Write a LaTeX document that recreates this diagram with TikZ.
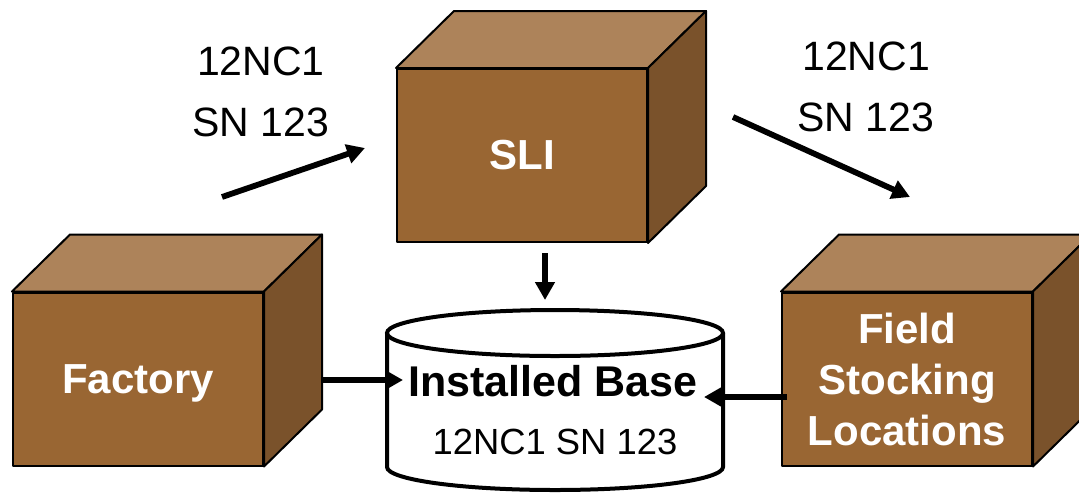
\documentclass[tikz,border=0pt]{standalone}
\usepackage{fontspec}
\setmainfont{Liberation Sans}
\usetikzlibrary{arrows.meta,calc}
\definecolor{cfront}{RGB}{153,102,51}
\definecolor{ctop}{RGB}{173,131,90}
\definecolor{cside}{RGB}{122,82,43}
\newcommand\cubefaces[1]{%
  \filldraw[face,fill=ctop] (#1.north west) -- ($(#1.north west)+(58,-57)$) -- ($(#1.north east)+(58,-57)$) -- (#1.north east) -- cycle;
  \filldraw[face,fill=cside] (#1.north east) -- ($(#1.north east)+(58,-57)$) -- ($(#1.south east)+(58,-57)$) -- (#1.south east) -- cycle;}
\begin{document}
\begin{tikzpicture}[x=0.5pt,y=-0.5pt,
  face/.style={draw=black, line width=1pt, line join=round},
  front/.style={face, fill=cfront, minimum width=125pt, minimum height=86.5pt, inner sep=0pt,
    text=white, font=\bfseries\fontsize{21}{25.5}\selectfont, align=center},
  arr/.style={line width=2.9pt, -{Triangle[length=9pt,width=9.5pt]}},
  lbl/.style={font=\fontsize{20.5}{30.5}\selectfont, align=center, inner sep=0pt},
  cyl/.style={line width=2pt}
]
\clip (0,0) rectangle (1079,493);
\fill[white] (0,0) rectangle (1079,493);

% cubes
\node[front, text depth=0pt] (fac) at (138,379) {Factory};
\cubefaces{fac}
\node[front] (sli) at (522,155.5) {SLI};
\cubefaces{sli}
\node[front] (fld) at (907,379) {Field\\Stocking\\Locations};
\cubefaces{fld}

% cylinder
\coordinate (cyltop) at (555,310);
\fill[white] (387,333) -- (387,467) arc[start angle=180, end angle=360, x radius=84pt, y radius=11.5pt] -- (723,333) arc[start angle=0, end angle=180, x radius=84pt, y radius=11.5pt] -- cycle;
\draw[cyl] (387,333) -- (387,467) arc[start angle=180, end angle=360, x radius=84pt, y radius=11.5pt] -- (723,333);
\draw[cyl] (555,333) ellipse[x radius=84pt, y radius=11.5pt];
\node[font=\bfseries\fontsize{21.5}{26}\selectfont, inner sep=2pt] (ib) at (553,381) {Installed Base};
\node[font=\fontsize{18.2}{22}\selectfont, inner sep=2pt] (ibsn) at (555,442) {12NC1 SN 123};

% labels
\node[lbl] (lab1) at (261,92) {12NC1\\SN 123};
\node[lbl] (lab2) at (866,87) {12NC1\\SN 123};

% arrows
\coordinate (l1) at (222,197);
\coordinate (l2) at (365,148);
\coordinate (r1) at (733,117);
\coordinate (r2) at (910,197);
\draw[arr] (l1) -- (l2);
\draw[arr] (r1) -- (r2);
\draw[arr] ([shift={(23,10)}]sli.south) -- ([shift={(-10,-10)}]cyltop);
\draw[arr] ([shift={(58,1)}]fac.east) -- ([shift={(-1,-1)}]ib.west);
\draw[arr] ([shift={(6,18)}]fld.west) -- ([shift={(2,16)}]ib.east);
\end{tikzpicture}
\end{document}
